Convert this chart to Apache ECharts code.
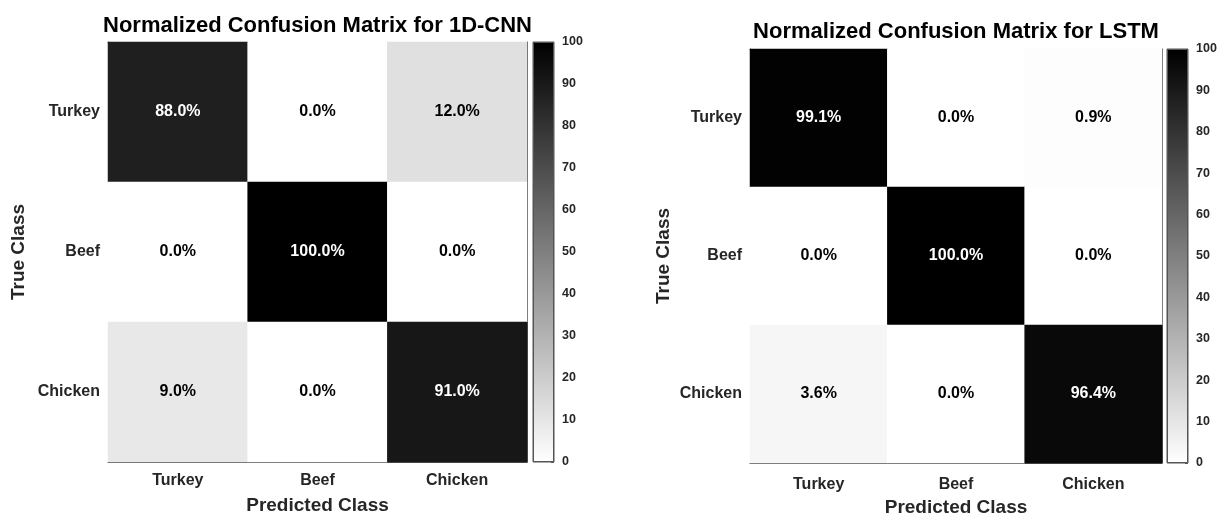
<!DOCTYPE html>
<html>
<head>
<meta charset="utf-8">
<script src="https://cdn.jsdelivr.net/npm/echarts@6/dist/echarts.min.js"></script>
<style>
  html, body { margin: 0; padding: 0; background: #ffffff; }
  #chart { width: 1222px; height: 513px; }
</style>
</head>
<body>
<div id="chart"></div>
<script>
// Class labels (predicted along x, true along y, top to bottom)
const classes = ['Turkey', 'Beef', 'Chicken'];

// Row-normalized confusion matrices in percent: rows = true class, cols = predicted class
const cnnMatrix = [
  [88.0, 0.0, 12.0],
  [0.0, 100.0, 0.0],
  [9.0, 0.0, 91.0]
];
const lstmMatrix = [
  [99.1, 0.0, 0.9],
  [0.0, 100.0, 0.0],
  [3.6, 0.0, 96.4]
];

const cnnTitle = 'Normalized Confusion Matrix for 1D-CNN';
const lstmTitle = 'Normalized Confusion Matrix for LSTM';
const xAxisTitle = 'Predicted Class';
const yAxisTitle = 'True Class';

// Colour bar scale
const colorbarMin = 0;
const colorbarMax = 100;
const colorbarStep = 10;

const FONT = 'Liberation Sans, Arial, Helvetica, sans-serif';
const AXIS_COLOR = '#555555';
const TEXT_COLOR = '#262626';

function cells(matrix) {
  const out = [];
  matrix.forEach((row, r) => {
    row.forEach((v, c) => {
      out.push({
        value: [c, r, v],
        label: { color: v > 50 ? '#ffffff' : '#000000' }
      });
    });
  });
  return out;
}

// Panel geometry: heatmap box and its colour bar
const panels = [
  { matrix: cnnMatrix, title: cnnTitle, grid: { left: 108, top: 42, width: 419, height: 420 },
    bar: { left: 533, top: 42, width: 21, height: 420 }, titleTop: 15, xNameGap: 34, yNameGap: 80, xLabelMargin: 11 },
  { matrix: lstmMatrix, title: lstmTitle, grid: { left: 750, top: 49, width: 412, height: 414 },
    bar: { left: 1167, top: 49, width: 21, height: 414 }, titleTop: 21, xNameGap: 34, yNameGap: 77, xLabelMargin: 14 }
];

const grids = [], xAxes = [], yAxes = [], series = [], titles = [];
const tickStyle = { show: true, inside: true, length: 4, alignWithLabel: true, lineStyle: { color: AXIS_COLOR } };
const lineStyle = { show: true, lineStyle: { color: AXIS_COLOR, width: 1 } };

panels.forEach((p) => {
  const gHeat = grids.length;
  grids.push(Object.assign({ containLabel: false, outerBoundsMode: 'none' }, p.grid));
  const gBar = grids.length;
  grids.push(Object.assign({ containLabel: false, outerBoundsMode: 'none', show: true, borderColor: AXIS_COLOR, borderWidth: 1 }, p.bar));

  titles.push({
    text: p.title,
    left: p.grid.left + p.grid.width / 2,
    textAlign: 'center',
    top: p.titleTop,
    padding: 0,
    textStyle: { fontFamily: FONT, fontSize: 22, fontWeight: 'bold', color: '#000000' }
  });

  const xBottom = xAxes.length;
  xAxes.push({
    type: 'category', gridIndex: gHeat, position: 'bottom', data: classes,
    axisLine: lineStyle, axisTick: tickStyle, splitLine: { show: false },
    axisLabel: { fontFamily: FONT, fontSize: 16, fontWeight: 'bold', color: TEXT_COLOR, margin: p.xLabelMargin },
    name: xAxisTitle, nameLocation: 'middle', nameGap: p.xNameGap,
    nameTextStyle: { fontFamily: FONT, fontSize: 19, fontWeight: 'bold', color: TEXT_COLOR }
  });
  xAxes.push({
    type: 'category', gridIndex: gHeat, position: 'top', data: classes,
    axisLine: lineStyle, axisTick: tickStyle, axisLabel: { show: false }, splitLine: { show: false }
  });
  xAxes.push({ type: 'category', gridIndex: gBar, data: [''], show: false });

  const yLeft = yAxes.length;
  yAxes.push({
    type: 'category', gridIndex: gHeat, position: 'left', data: classes, inverse: true,
    axisLine: lineStyle, axisTick: tickStyle, splitLine: { show: false },
    axisLabel: { fontFamily: FONT, fontSize: 16, fontWeight: 'bold', color: TEXT_COLOR, margin: 8 },
    name: yAxisTitle, nameLocation: 'middle', nameGap: p.yNameGap, nameRotate: 90,
    nameTextStyle: { fontFamily: FONT, fontSize: 19, fontWeight: 'bold', color: TEXT_COLOR }
  });
  yAxes.push({
    type: 'category', gridIndex: gHeat, position: 'right', data: classes, inverse: true,
    axisLine: lineStyle, axisTick: tickStyle, axisLabel: { show: false }, splitLine: { show: false }
  });
  const yBar = yAxes.length;
  yAxes.push({
    type: 'value', gridIndex: gBar, position: 'right', min: colorbarMin, max: colorbarMax, interval: colorbarStep,
    axisLine: { show: false }, splitLine: { show: false },
    axisTick: { show: true, inside: true, length: 3, lineStyle: { color: AXIS_COLOR } },
    axisLabel: { fontFamily: FONT, fontSize: 12.5, fontWeight: 'bold', color: TEXT_COLOR, margin: 8 }
  });

  series.push({
    type: 'heatmap', xAxisIndex: xBottom, yAxisIndex: yLeft,
    data: cells(p.matrix),
    label: {
      show: true, fontFamily: FONT, fontSize: 16, fontWeight: 'bold',
      formatter: (d) => d.value[2].toFixed(1) + '%'
    },
    itemStyle: { borderWidth: 0 },
    emphasis: { disabled: true }
  });
  series.push({
    type: 'bar', xAxisIndex: xBottom + 2, yAxisIndex: yBar,
    data: [colorbarMax], barWidth: '100%', silent: true, z: 1,
    itemStyle: {
      color: new echarts.graphic.LinearGradient(0, 0, 0, 1, [
        { offset: 0, color: '#000000' },
        { offset: 1, color: '#ffffff' }
      ]),
      borderColor: AXIS_COLOR, borderWidth: 1
    }
  });
});

const chart = echarts.init(document.getElementById('chart'), null, { renderer: 'canvas' });
chart.setOption({
  backgroundColor: '#ffffff',
  animation: false,
  title: titles,
  grid: grids,
  xAxis: xAxes,
  yAxis: yAxes,
  visualMap: {
    show: false, type: 'continuous', min: colorbarMin, max: colorbarMax,
    seriesIndex: [0, 2], dimension: 2,
    inRange: { color: ['#ffffff', '#000000'] }
  },
  series: series
});
</script>
</body>
</html>
